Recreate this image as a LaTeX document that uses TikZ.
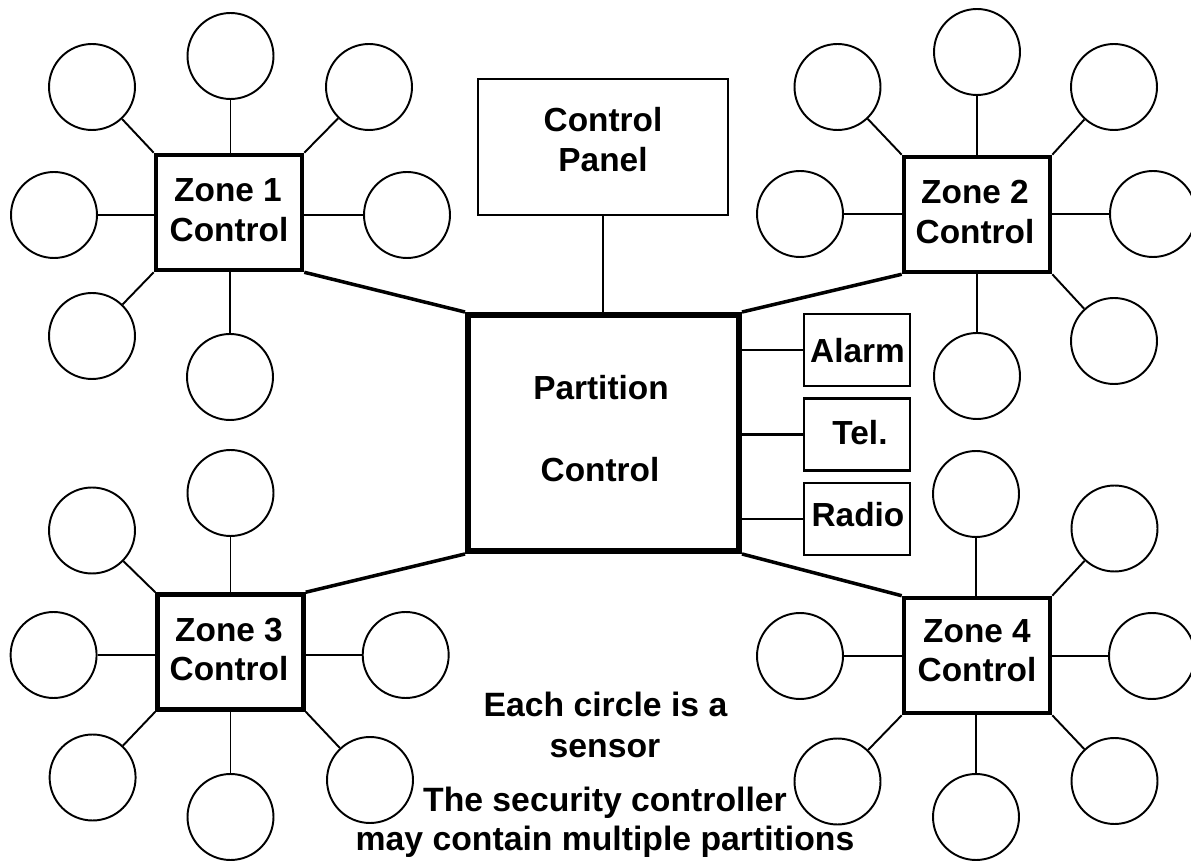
\documentclass[tikz,border=0pt]{standalone}
\usepackage{fontspec}
\setmainfont{Liberation Sans}
\begin{document}
\begin{tikzpicture}[x=0.02cm,y=-0.02cm,
  sensor/.style={circle, draw, line width=1.1pt, minimum size=1.72cm, inner sep=0pt},
  zonebox/.style={rectangle, draw, line width=2.6pt, minimum width=2.92cm, minimum height=2.30cm, inner sep=0pt},
  partbox/.style={rectangle, draw, line width=3.4pt, minimum width=5.42cm, minimum height=4.72cm, inner sep=0pt},
  panelbox/.style={rectangle, draw, line width=1.1pt, minimum width=5.0cm, minimum height=2.72cm, inner sep=0pt},
  devbox/.style={rectangle, draw, line width=1.4pt, minimum width=2.12cm, minimum height=1.44cm, inner sep=0pt},
  spoke/.style={line width=1.1pt},
  link/.style={line width=2pt},
  devlink/.style={line width=1.7pt},
  lbl/.style={font=\fontsize{19}{22}\selectfont\bfseries, anchor=base, inner sep=0pt},
  note/.style={font=\fontsize{19.2}{22}\selectfont\bfseries, anchor=base, inner sep=0pt}
]
\useasboundingbox (0,0) rectangle (1191,861);

% central boxes
\node[partbox] (part) at (603.5,433) {};
\node[panelbox] (cp) at (603,147) {};
\node[devbox] (al) at (857,350) {};
\node[devbox] (tel) at (857,434.7) {};
\node[devbox] (rad) at (857,519) {};

% zone boxes
\node[zonebox] (z1) at (229,212.5) {};
\node[zonebox] (z2) at (977,214.5) {};
\node[zonebox] (z3) at (230.5,652) {};
\node[zonebox] (z4) at (977,655.5) {};

% zone 1 sensors
\node[sensor] (z1a) at (230.5,56) {};
\node[sensor] (z1b) at (92,87) {};
\node[sensor] (z1c) at (369,87) {};
\node[sensor] (z1d) at (54,215) {};
\node[sensor] (z1e) at (407,215) {};
\node[sensor] (z1f) at (92,336) {};
\node[sensor] (z1g) at (230,377) {};
\draw[spoke] (z1a) -- (z1a |- z1.north);
\draw[spoke] (z1b) -- (z1.north west);
\draw[spoke] (z1c) -- (z1.north east);
\draw[spoke] (z1d) -- (z1d -| z1.west);
\draw[spoke] (z1e) -- (z1e -| z1.east);
\draw[spoke] (z1f) -- (z1.south west);
\draw[spoke] (z1g) -- (z1g |- z1.south);

% zone 2 sensors
\node[sensor] (z2a) at (977,52) {};
\node[sensor] (z2b) at (837.5,87) {};
\node[sensor] (z2c) at (1114,87) {};
\node[sensor] (z2d) at (800,214) {};
\node[sensor] (z2e) at (1153,214) {};
\node[sensor] (z2f) at (1114,341) {};
\node[sensor] (z2g) at (977,376) {};
\draw[spoke] (z2a) -- (z2a |- z2.north);
\draw[spoke] (z2b) -- (z2.north west);
\draw[spoke] (z2c) -- (z2.north east);
\draw[spoke] (z2d) -- (z2d -| z2.west);
\draw[spoke] (z2e) -- (z2e -| z2.east);
\draw[spoke] (z2f) -- (z2.south east);
\draw[spoke] (z2g) -- (z2g |- z2.south);

% zone 3 sensors
\node[sensor] (z3a) at (230.5,493) {};
\node[sensor] (z3b) at (92,530.5) {};
\node[sensor] (z3d) at (53.6,655) {};
\node[sensor] (z3e) at (405.7,655) {};
\node[sensor] (z3f) at (92.6,777.5) {};
\node[sensor] (z3g) at (230.5,817) {};
\node[sensor] (z3h) at (370,780) {};
\draw[spoke] (z3a) -- (z3a |- z3.north);
\draw[spoke] (z3b) -- (z3.north west);
\draw[spoke] (z3d) -- (z3d -| z3.west);
\draw[spoke] (z3e) -- (z3e -| z3.east);
\draw[spoke] (z3f) -- (z3.south west);
\draw[spoke] (z3g) -- (z3g |- z3.south);
\draw[spoke] (z3h) -- (z3.south east);

% zone 4 sensors
\node[sensor] (z4a) at (976,494) {};
\node[sensor] (z4c) at (1114.5,528.5) {};
\node[sensor] (z4d) at (800,656) {};
\node[sensor] (z4e) at (1152,656) {};
\node[sensor] (z4f) at (837.5,781.5) {};
\node[sensor] (z4g) at (976,817) {};
\node[sensor] (z4h) at (1114.5,781) {};
\draw[spoke] (z4a) -- (z4a |- z4.north);
\draw[spoke] (z4c) -- (z4.north east);
\draw[spoke] (z4d) -- (z4d -| z4.west);
\draw[spoke] (z4e) -- (z4e -| z4.east);
\draw[spoke] (z4f) -- (z4.south west);
\draw[spoke] (z4g) -- (z4g |- z4.south);
\draw[spoke] (z4h) -- (z4.south east);

% links
\draw[link] (z1.south east) -- (part.north west);
\draw[link] (z2.south west) -- (part.north east);
\draw[link] (z3.north east) -- (part.south west);
\draw[link] (z4.north west) -- (part.south east);
\draw[spoke] (cp.south) -- (cp.south |- part.north);
\draw[devlink] (al.west) -- (al.west -| part.east);
\draw[devlink] (tel.west) -- (tel.west -| part.east);
\draw[devlink] (rad.west) -- (rad.west -| part.east);

% labels
\node[lbl] (cpt1) at (603,132) {Control};
\node[lbl] (cpt2) at (603,172) {Panel};
\node[lbl] (pt1) at (601,400) {Partition};
\node[lbl] (pt2) at (600,482) {Control};
\node[lbl] (alt) at (857.5,363) {Alarm};
\node[lbl] (telt) at (860,445) {Tel.};
\node[lbl] (radt) at (858,527) {Radio};
\node[lbl] (z1t1) at (228,201.7) {Zone 1};
\node[lbl] (z1t2) at (229,241.7) {Control};
\node[lbl] (z2t1) at (975,203.3) {Zone 2};
\node[lbl] (z2t2) at (975,244) {Control};
\node[lbl] (z3t1) at (229,641.7) {Zone 3};
\node[lbl] (z3t2) at (229,680.7) {Control};
\node[lbl] (z4t1) at (977,642.7) {Zone 4};
\node[lbl] (z4t2) at (977,681.7) {Control};
\node[note] (n1) at (605.5,716) {Each circle is a};
\node[note] (n2) at (605,757) {sensor};
\node[note] (n3) at (605,811.7) {The security controller};
\node[note] (n4) at (605,850) {may contain multiple partitions};
\end{tikzpicture}
\end{document}
